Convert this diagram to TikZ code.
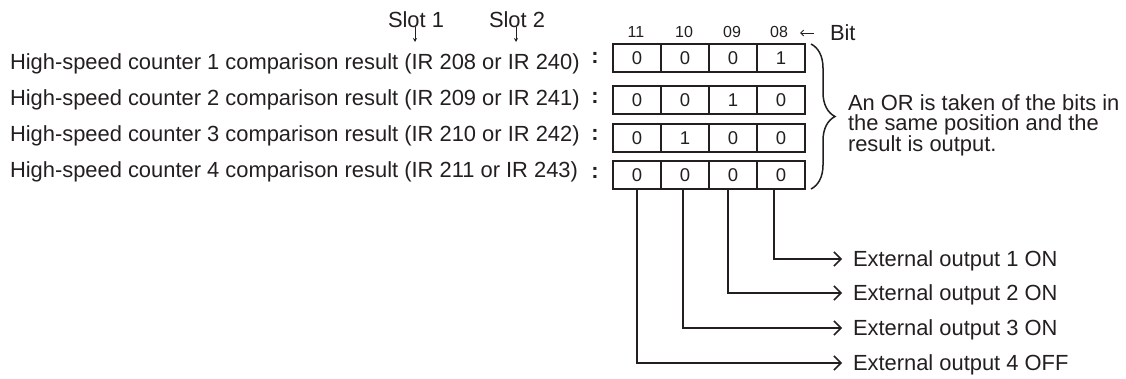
\documentclass[tikz,border=0pt]{standalone}
\usepackage{fontspec}
\setmainfont{Liberation Sans}
\usetikzlibrary{arrows.meta,decorations.pathreplacing}
\definecolor{ink}{HTML}{231F20}
\begin{document}
\begin{tikzpicture}[x=1pt,y=-1pt,
  lbl/.style={font=\fontsize{21.9}{24}\selectfont, inner sep=0pt, outer sep=0pt, text=ink},
  cell/.style={draw=ink, line width=1.6pt, minimum width=48pt, minimum height=28pt, inner sep=0pt, text=ink, font=\fontsize{18.5}{20}\selectfont},
  bitlbl/.style={font=\fontsize{16}{18}\selectfont, inner sep=0pt, text=ink},
  colon/.style={font=\fontsize{21.9}{24}\selectfont\bfseries, inner sep=0pt, text=ink},
  outlbl/.style={lbl, anchor=west, inner xsep=11pt, text height=15.7pt, text depth=0pt},
  conn/.style={draw=ink, line width=1.5pt, -{Straight Barb[length=7pt,width=14pt,line width=1.5pt]}},
  slotarr/.style={draw=ink, line width=1pt, -{Stealth[length=4pt,width=4pt]}},
  bitarr/.style={draw=ink, line width=1pt, -{Straight Barb[length=3pt,width=6pt,line width=1pt]}},
  bracestyle/.style={draw=ink, line width=1.5pt, decorate, decoration={brace, amplitude=24pt}}
]
\useasboundingbox (0,0) rectangle (1126,378);

% slot labels
\node[lbl, anchor=base] (s1) at (416,27) {Slot 1};
\node[lbl, anchor=base] (s2) at (517,27) {Slot 2};
\coordinate (s1t) at (415,42);
\coordinate (s2t) at (516,42);
\draw[slotarr] (s1.base -| s1t) -- (s1t);
\draw[slotarr] (s2.base -| s2t) -- (s2t);

% left labels
\node[lbl, anchor=base west] (t1) at (10,69) {High-speed counter 1 comparison result (IR 208 or IR 240)};
\node[lbl, anchor=base west] (t2) at (10,105) {High-speed counter 2 comparison result (IR 209 or IR 241)};
\node[lbl, anchor=base west] (t3) at (10,141) {High-speed counter 3 comparison result (IR 210 or IR 242)};
\node[lbl, anchor=base west] (t4) at (10,177) {High-speed counter 4 comparison result (IR 211 or IR 243)};

% colons
\node[colon, anchor=base] (k1) at (595,63) {:};
\node[colon, anchor=base] (k2) at (595,103) {:};
\node[colon, anchor=base] (k3) at (595,140) {:};
\node[colon, anchor=base] (k4) at (595,178) {:};

% bit labels
\node[bitlbl, anchor=base] (b1) at (636,37) {11};
\node[bitlbl, anchor=base] (b2) at (684,37) {10};
\node[bitlbl, anchor=base] (b3) at (732,37) {09};
\node[bitlbl, anchor=base] (b4) at (779,37) {08};
\node[lbl, anchor=base west] (bitw) at (830,40) {Bit};
\coordinate (ba1) at (814,33);
\coordinate (ba2) at (800,33);
\draw[bitarr] (ba1) -- (ba2);

% cells
\foreach \r/\y/\va/\vb/\vc/\vd in {1/58/0/0/0/1, 2/100/0/0/1/0, 3/138/0/1/0/0, 4/175/0/0/0/0}{
  \node[cell] (c\r1) at (637,\y) {\va};
  \node[cell] (c\r2) at (685,\y) {\vb};
  \node[cell] (c\r3) at (733,\y) {\vc};
  \node[cell] (c\r4) at (781,\y) {\vd};
}

% brace
\coordinate (br1) at (811,44);
\coordinate (br2) at (811,189);
\draw[bracestyle] (br1) -- (br2);

% OR text
\node[lbl, anchor=base west, align=left, font=\fontsize{21.9}{20.5}\selectfont] (ortxt) at (848,151)
  {An OR is taken of the bits in\\the same position and the\\result is output.};

% outputs
\node[outlbl] (o1) at (842,259) {External output 1 ON};
\node[outlbl] (o2) at (842,293) {External output 2 ON};
\node[outlbl] (o3) at (842,328) {External output 3 ON};
\node[outlbl] (o4) at (842,363) {External output 4 OFF};

\draw[conn] ([xshift=-7pt]c44.south) |- (o1.west);
\draw[conn] ([xshift=-5pt]c43.south) |- (o2.west);
\draw[conn] ([xshift=-2pt]c42.south) |- (o3.west);
\draw[conn] (c41.south) |- (o4.west);
\end{tikzpicture}
\end{document}
